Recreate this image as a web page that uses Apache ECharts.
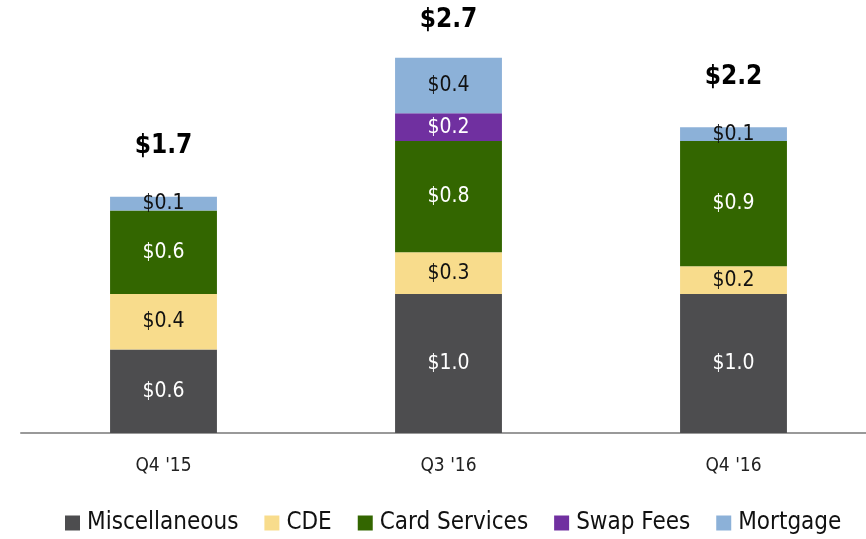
<!DOCTYPE html>
<html lang="en">
<head>
<meta charset="UTF-8">
<title>Noninterest income</title>
<script src="https://cdn.jsdelivr.net/npm/echarts@6/dist/echarts.min.js"></script>
<style>
  html, body { margin: 0; padding: 0; background: #fff; }
  #chart { width: 866px; height: 539px; }
</style>
</head>
<body>
<div id="chart"></div>
<script>
var quarters = ["Q4 '15", "Q3 '16", "Q4 '16"];
var misc = [0.6, 1.0, 1.0];
var cde = [0.4, 0.3, 0.2];
var card = [0.6, 0.8, 0.9];
var swap = [0, 0.2, 0];
var mortgage = [0.1, 0.4, 0.1];
var totals = [1.7, 2.7, 2.2];

var FONT = '"DejaVu Sans Condensed", "Liberation Sans Narrow", "Arial Narrow", sans-serif';

function seg(name, data, color, textColor) {
    return {
        name: name,
        type: 'bar',
        stack: 'all',
        barWidth: '37.5%',
        data: data,
        itemStyle: { color: color },
        label: {
            show: true,
            position: 'inside',
            color: textColor,
            fontFamily: FONT,
            fontSize: 21,
            formatter: function (p) { return p.value ? '$' + p.value.toFixed(1) : ''; }
        }
    };
}

var chart = echarts.init(document.getElementById('chart'));
chart.setOption({
    animation: false,
    grid: { left: 21, width: 855, top: 16, bottom: 106, outerBoundsMode: 'none' },
    legend: {
        data: ['Miscellaneous', 'CDE', 'Card Services', 'Swap Fees', 'Mortgage'],
        bottom: -1,
        left: 60,
        icon: 'rect',
        itemWidth: 15,
        itemHeight: 15,
        itemGap: 26,
        textStyle: { fontFamily: FONT, fontSize: 24, color: '#111', padding: [0, 0, 0, 2] }
    },
    xAxis: {
        type: 'category',
        data: quarters,
        axisLine: { lineStyle: { color: '#999', width: 2 } },
        axisTick: { show: false },
        axisLabel: { color: '#222', fontFamily: FONT, fontSize: 19, margin: 24 }
    },
    yAxis: {
        type: 'value',
        min: 0,
        max: 3,
        show: false,
        splitLine: { show: false }
    },
    series: [
        seg('Miscellaneous', misc, '#4d4d4f', '#fff'),
        seg('CDE', cde, '#f8dc8c', '#111'),
        seg('Card Services', card, '#336600', '#fff'),
        seg('Swap Fees', swap, '#7030a0', '#fff'),
        seg('Mortgage', mortgage, '#8cb1d8', '#111'),
        {
            name: 'Total',
            type: 'bar',
            stack: 'all',
            barWidth: '37.5%',
            data: totals.map(function (t, i) {
                return { value: 0, label: { distance: i === 1 ? 24 : 37 } };
            }),
            label: {
                show: true,
                position: 'top',
                color: '#000',
                fontFamily: FONT,
                fontWeight: 'bold',
                fontSize: 26,
                formatter: function (p) { return '$' + totals[p.dataIndex].toFixed(1); }
            }
        }
    ]
});
</script>
</body>
</html>
